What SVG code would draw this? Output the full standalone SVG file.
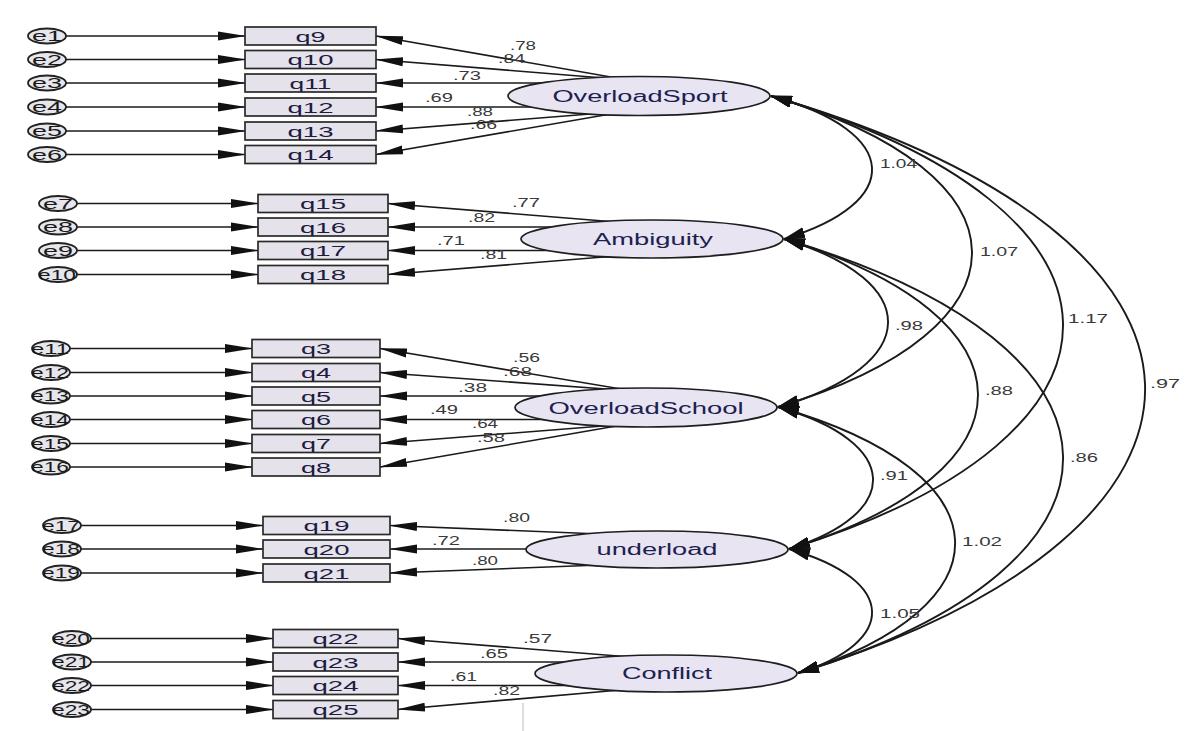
<svg xmlns="http://www.w3.org/2000/svg" width="1186" height="731" viewBox="0 0 1186 731">
<style>
.bg{fill:#ffffff}
.box{fill:#e6e2ec;stroke:#2a2a2a;stroke-width:1.7}
.err{fill:#e6e6ec;stroke:#222;stroke-width:1.8}
.lat{fill:#e8e4f2;stroke:#1e1e1e;stroke-width:1.7}
.ln{fill:none;stroke:#1a1a1a;stroke-width:1.6}
.cv{fill:none;stroke:#1a1a1a;stroke-width:1.9}
.bt{font-family:"Liberation Sans",Arial,sans-serif;font-size:15px;fill:#1c1c40;text-anchor:middle}
.et{font-family:"Liberation Sans",Arial,sans-serif;font-size:15px;fill:#1a1a1a;text-anchor:middle}
.lt{font-family:"Liberation Sans",Arial,sans-serif;font-size:16px;fill:#1c2150;text-anchor:middle}
.nt{font-family:"Liberation Sans",Arial,sans-serif;font-size:12px;fill:#3a3a3a}
</style>
<defs>
<linearGradient id="bgg" x1="0" y1="0" x2="1" y2="0">
<stop offset="0" stop-color="#ececec"/>
<stop offset="0.25" stop-color="#f1f1f1"/>
<stop offset="0.4" stop-color="#fafafa"/>
<stop offset="1" stop-color="#ffffff"/>
</linearGradient>
<marker id="ah" markerUnits="userSpaceOnUse" markerWidth="28" markerHeight="10" refX="27" refY="5" orient="auto">
<path d="M0,0.5 L28,5 L0,9.5 z" fill="#111"/>
</marker>
<marker id="ch" markerUnits="userSpaceOnUse" markerWidth="22" markerHeight="12" refX="21" refY="6" orient="auto-start-reverse">
<path d="M0,0 L22,6 L0,12 z" fill="#111"/>
</marker>
</defs>
<rect class="bg" x="0" y="0" width="1186" height="731" fill="url(#bgg)"/>
<line x1="523" y1="703" x2="523" y2="731" stroke="#bbbbbb" stroke-width="1"/>

<g id="connectors">
<!-- error arrows block 1 -->
<path class="ln" marker-end="url(#ah)" d="M66,36 H245"/>
<path class="ln" marker-end="url(#ah)" d="M66,59.5 H245"/>
<path class="ln" marker-end="url(#ah)" d="M66,83 H245"/>
<path class="ln" marker-end="url(#ah)" d="M66,107 H245"/>
<path class="ln" marker-end="url(#ah)" d="M66,131 H245"/>
<path class="ln" marker-end="url(#ah)" d="M66,154.5 H245"/>
<!-- block 2 -->
<path class="ln" marker-end="url(#ah)" d="M77,203.5 H258"/>
<path class="ln" marker-end="url(#ah)" d="M77,227 H258"/>
<path class="ln" marker-end="url(#ah)" d="M77,250.5 H258"/>
<path class="ln" marker-end="url(#ah)" d="M77,274.5 H258"/>
<!-- block 3 -->
<path class="ln" marker-end="url(#ah)" d="M70,348.5 H252"/>
<path class="ln" marker-end="url(#ah)" d="M70,372.5 H252"/>
<path class="ln" marker-end="url(#ah)" d="M70,396 H252"/>
<path class="ln" marker-end="url(#ah)" d="M70,419.5 H252"/>
<path class="ln" marker-end="url(#ah)" d="M70,443.5 H252"/>
<path class="ln" marker-end="url(#ah)" d="M70,467 H252"/>
<!-- block 4 -->
<path class="ln" marker-end="url(#ah)" d="M81,525.5 H263"/>
<path class="ln" marker-end="url(#ah)" d="M81,549 H263"/>
<path class="ln" marker-end="url(#ah)" d="M81,573 H263"/>
<!-- block 5 -->
<path class="ln" marker-end="url(#ah)" d="M91,638.5 H273"/>
<path class="ln" marker-end="url(#ah)" d="M91,662 H273"/>
<path class="ln" marker-end="url(#ah)" d="M91,685.5 H273"/>
<path class="ln" marker-end="url(#ah)" d="M91,709.5 H273"/>

<!-- loadings block 1 -->
<path class="ln" marker-end="url(#ah)" d="M628,80 L376,36"/>
<path class="ln" marker-end="url(#ah)" d="M628,80 L376,59.5"/>
<path class="ln" marker-end="url(#ah)" d="M600,83 L376,83"/>
<path class="ln" marker-end="url(#ah)" d="M600,107 L376,107"/>
<path class="ln" marker-end="url(#ah)" d="M628,111 L376,131"/>
<path class="ln" marker-end="url(#ah)" d="M628,111 L376,154.5"/>
<!-- loadings block 2 -->
<path class="ln" marker-end="url(#ah)" d="M628,223 L388,203.5"/>
<path class="ln" marker-end="url(#ah)" d="M600,227 L388,227"/>
<path class="ln" marker-end="url(#ah)" d="M600,250.5 L388,250.5"/>
<path class="ln" marker-end="url(#ah)" d="M628,255 L388,274.5"/>
<!-- loadings block 3 -->
<path class="ln" marker-end="url(#ah)" d="M633,391 L380,348.5"/>
<path class="ln" marker-end="url(#ah)" d="M633,391 L380,372.5"/>
<path class="ln" marker-end="url(#ah)" d="M600,396 L380,396"/>
<path class="ln" marker-end="url(#ah)" d="M600,419.5 L380,419.5"/>
<path class="ln" marker-end="url(#ah)" d="M628,424 L380,443.5"/>
<path class="ln" marker-end="url(#ah)" d="M628,424 L380,467"/>
<!-- loadings block 4 -->
<path class="ln" marker-end="url(#ah)" d="M600,534 L390,525.5"/>
<path class="ln" marker-end="url(#ah)" d="M600,549 L390,549"/>
<path class="ln" marker-end="url(#ah)" d="M600,565 L390,573"/>
<!-- loadings block 5 -->
<path class="ln" marker-end="url(#ah)" d="M643,658 L398,638.5"/>
<path class="ln" marker-end="url(#ah)" d="M600,662 L398,662"/>
<path class="ln" marker-end="url(#ah)" d="M600,685.5 L398,685.5"/>
<path class="ln" marker-end="url(#ah)" d="M620,690 L398,709.5"/>

<!-- covariances -->
<path class="cv" marker-start="url(#ch)" marker-end="url(#ch)" d="M771,96 C903.5,131.75 903.5,203.25 784,239"/>
<path class="cv" marker-start="url(#ch)" marker-end="url(#ch)" d="M771,96 C1037.8,173.75 1037.8,329.25 778,407"/>
<path class="cv" marker-start="url(#ch)" marker-end="url(#ch)" d="M771,96 C1157.3,209.25 1157.3,435.75 789,549"/>
<path class="cv" marker-start="url(#ch)" marker-end="url(#ch)" d="M771,96 C1265.2,240.25 1265.2,528.75 798,673"/>
<path class="cv" marker-start="url(#ch)" marker-end="url(#ch)" d="M784,239 C923.7,281 923.7,365 778,407"/>
<path class="cv" marker-start="url(#ch)" marker-end="url(#ch)" d="M784,239 C1041.8,316.5 1041.8,471.5 789,549"/>
<path class="cv" marker-start="url(#ch)" marker-end="url(#ch)" d="M784,239 C1153.7,347.5 1153.7,564.5 798,673"/>
<path class="cv" marker-start="url(#ch)" marker-end="url(#ch)" d="M778,407 C902.8,442.5 902.8,513.5 789,549"/>
<path class="cv" marker-start="url(#ch)" marker-end="url(#ch)" d="M778,407 C1010.7,473.5 1010.7,606.5 798,673"/>
<path class="cv" marker-start="url(#ch)" marker-end="url(#ch)" d="M789,549 C898.2,580 898.2,642 798,673"/>

<!-- loading labels -->
<text class="nt" x="510" y="50" textLength="26" lengthAdjust="spacingAndGlyphs">.78</text>
<text class="nt" x="498" y="63" textLength="27" lengthAdjust="spacingAndGlyphs">.84</text>
<text class="nt" x="453" y="80" textLength="28" lengthAdjust="spacingAndGlyphs">.73</text>
<text class="nt" x="425" y="102" textLength="28" lengthAdjust="spacingAndGlyphs">.69</text>
<text class="nt" x="467" y="116" textLength="26" lengthAdjust="spacingAndGlyphs">.88</text>
<text class="nt" x="470" y="129" textLength="27" lengthAdjust="spacingAndGlyphs">.66</text>
<text class="nt" x="512" y="207" textLength="28" lengthAdjust="spacingAndGlyphs">.77</text>
<text class="nt" x="468" y="222" textLength="27" lengthAdjust="spacingAndGlyphs">.82</text>
<text class="nt" x="437" y="245" textLength="28" lengthAdjust="spacingAndGlyphs">.71</text>
<text class="nt" x="480" y="259" textLength="27" lengthAdjust="spacingAndGlyphs">.81</text>
<text class="nt" x="513" y="362" textLength="27" lengthAdjust="spacingAndGlyphs">.56</text>
<text class="nt" x="503" y="376" textLength="29" lengthAdjust="spacingAndGlyphs">.68</text>
<text class="nt" x="458" y="392" textLength="29" lengthAdjust="spacingAndGlyphs">.38</text>
<text class="nt" x="430" y="414" textLength="28" lengthAdjust="spacingAndGlyphs">.49</text>
<text class="nt" x="472" y="428" textLength="26" lengthAdjust="spacingAndGlyphs">.64</text>
<text class="nt" x="477" y="442" textLength="28" lengthAdjust="spacingAndGlyphs">.58</text>
<text class="nt" x="503" y="522" textLength="27" lengthAdjust="spacingAndGlyphs">.80</text>
<text class="nt" x="432" y="545" textLength="28" lengthAdjust="spacingAndGlyphs">.72</text>
<text class="nt" x="472" y="565" textLength="26" lengthAdjust="spacingAndGlyphs">.80</text>
<text class="nt" x="523" y="643" textLength="29" lengthAdjust="spacingAndGlyphs">.57</text>
<text class="nt" x="480" y="658" textLength="28" lengthAdjust="spacingAndGlyphs">.65</text>
<text class="nt" x="450" y="681" textLength="27" lengthAdjust="spacingAndGlyphs">.61</text>
<text class="nt" x="493" y="695" textLength="27" lengthAdjust="spacingAndGlyphs">.82</text>
<!-- covariance labels -->
<text class="nt" x="880" y="168" textLength="37" lengthAdjust="spacingAndGlyphs">1.04</text>
<text class="nt" x="980" y="256" textLength="38" lengthAdjust="spacingAndGlyphs">1.07</text>
<text class="nt" x="1068" y="323" textLength="40" lengthAdjust="spacingAndGlyphs">1.17</text>
<text class="nt" x="1150" y="388" textLength="30" lengthAdjust="spacingAndGlyphs">.97</text>
<text class="nt" x="895" y="330" textLength="28" lengthAdjust="spacingAndGlyphs">.98</text>
<text class="nt" x="985" y="395" textLength="28" lengthAdjust="spacingAndGlyphs">.88</text>
<text class="nt" x="1070" y="462" textLength="28" lengthAdjust="spacingAndGlyphs">.86</text>
<text class="nt" x="880" y="480" textLength="28" lengthAdjust="spacingAndGlyphs">.91</text>
<text class="nt" x="962" y="546" textLength="40" lengthAdjust="spacingAndGlyphs">1.02</text>
<text class="nt" x="880" y="618" textLength="40" lengthAdjust="spacingAndGlyphs">1.05</text>
</g>

<!-- error terms -->
<g id="e1"><ellipse class="err" cx="47" cy="36" rx="19" ry="7.5"/><text class="et" x="47" y="41" textLength="30" lengthAdjust="spacingAndGlyphs">e1</text></g>
<g id="e2"><ellipse class="err" cx="47" cy="59.5" rx="19" ry="7.5"/><text class="et" x="47" y="64.5" textLength="30" lengthAdjust="spacingAndGlyphs">e2</text></g>
<g id="e3"><ellipse class="err" cx="47" cy="83" rx="19" ry="7.5"/><text class="et" x="47" y="88" textLength="30" lengthAdjust="spacingAndGlyphs">e3</text></g>
<g id="e4"><ellipse class="err" cx="47" cy="107" rx="19" ry="7.5"/><text class="et" x="47" y="112" textLength="30" lengthAdjust="spacingAndGlyphs">e4</text></g>
<g id="e5"><ellipse class="err" cx="47" cy="131" rx="19" ry="7.5"/><text class="et" x="47" y="136" textLength="30" lengthAdjust="spacingAndGlyphs">e5</text></g>
<g id="e6"><ellipse class="err" cx="47" cy="154.5" rx="19" ry="7.5"/><text class="et" x="47" y="159.5" textLength="30" lengthAdjust="spacingAndGlyphs">e6</text></g>
<g id="e7"><ellipse class="err" cx="58" cy="203.5" rx="19" ry="7.5"/><text class="et" x="58" y="208.5" textLength="30" lengthAdjust="spacingAndGlyphs">e7</text></g>
<g id="e8"><ellipse class="err" cx="58" cy="227" rx="19" ry="7.5"/><text class="et" x="58" y="232" textLength="30" lengthAdjust="spacingAndGlyphs">e8</text></g>
<g id="e9"><ellipse class="err" cx="58" cy="250.5" rx="19" ry="7.5"/><text class="et" x="58" y="255.5" textLength="30" lengthAdjust="spacingAndGlyphs">e9</text></g>
<g id="e10"><ellipse class="err" cx="58" cy="274.5" rx="19" ry="7.5"/><text class="et" x="57" y="279.5" textLength="38" lengthAdjust="spacingAndGlyphs">e10</text></g>
<g id="e11"><ellipse class="err" cx="51" cy="348.5" rx="19" ry="7.5"/><text class="et" x="50" y="353.5" textLength="38" lengthAdjust="spacingAndGlyphs">e11</text></g>
<g id="e12"><ellipse class="err" cx="51" cy="372.5" rx="19" ry="7.5"/><text class="et" x="50" y="377.5" textLength="38" lengthAdjust="spacingAndGlyphs">e12</text></g>
<g id="e13"><ellipse class="err" cx="51" cy="396" rx="19" ry="7.5"/><text class="et" x="50" y="401" textLength="38" lengthAdjust="spacingAndGlyphs">e13</text></g>
<g id="e14"><ellipse class="err" cx="51" cy="419.5" rx="19" ry="7.5"/><text class="et" x="50" y="424.5" textLength="38" lengthAdjust="spacingAndGlyphs">e14</text></g>
<g id="e15"><ellipse class="err" cx="51" cy="443.5" rx="19" ry="7.5"/><text class="et" x="50" y="448.5" textLength="38" lengthAdjust="spacingAndGlyphs">e15</text></g>
<g id="e16"><ellipse class="err" cx="51" cy="467" rx="19" ry="7.5"/><text class="et" x="50" y="472" textLength="38" lengthAdjust="spacingAndGlyphs">e16</text></g>
<g id="e17"><ellipse class="err" cx="62" cy="525.5" rx="19" ry="7.5"/><text class="et" x="61" y="530.5" textLength="38" lengthAdjust="spacingAndGlyphs">e17</text></g>
<g id="e18"><ellipse class="err" cx="62" cy="549" rx="19" ry="7.5"/><text class="et" x="61" y="554" textLength="38" lengthAdjust="spacingAndGlyphs">e18</text></g>
<g id="e19"><ellipse class="err" cx="62" cy="573" rx="19" ry="7.5"/><text class="et" x="61" y="578" textLength="38" lengthAdjust="spacingAndGlyphs">e19</text></g>
<g id="e20"><ellipse class="err" cx="72" cy="638.5" rx="19" ry="7.5"/><text class="et" x="71" y="643.5" textLength="38" lengthAdjust="spacingAndGlyphs">e20</text></g>
<g id="e21"><ellipse class="err" cx="72" cy="662" rx="19" ry="7.5"/><text class="et" x="71" y="667" textLength="38" lengthAdjust="spacingAndGlyphs">e21</text></g>
<g id="e22"><ellipse class="err" cx="72" cy="685.5" rx="19" ry="7.5"/><text class="et" x="71" y="690.5" textLength="38" lengthAdjust="spacingAndGlyphs">e22</text></g>
<g id="e23"><ellipse class="err" cx="72" cy="709.5" rx="19" ry="7.5"/><text class="et" x="71" y="714.5" textLength="38" lengthAdjust="spacingAndGlyphs">e23</text></g>

<!-- observed variables -->
<g id="q9"><rect class="box" x="245" y="27" width="131" height="18"/><text class="bt" x="310.5" y="41.5" textLength="30" lengthAdjust="spacingAndGlyphs">q9</text></g>
<g id="q10"><rect class="box" x="245" y="50.5" width="131" height="18"/><text class="bt" x="310.5" y="65" textLength="46" lengthAdjust="spacingAndGlyphs">q10</text></g>
<g id="q11"><rect class="box" x="245" y="74" width="131" height="18"/><text class="bt" x="310.5" y="88.5" textLength="42" lengthAdjust="spacingAndGlyphs">q11</text></g>
<g id="q12"><rect class="box" x="245" y="98" width="131" height="18"/><text class="bt" x="310.5" y="112.5" textLength="46" lengthAdjust="spacingAndGlyphs">q12</text></g>
<g id="q13"><rect class="box" x="245" y="122" width="131" height="18"/><text class="bt" x="310.5" y="136.5" textLength="46" lengthAdjust="spacingAndGlyphs">q13</text></g>
<g id="q14"><rect class="box" x="245" y="145.5" width="131" height="18"/><text class="bt" x="310.5" y="160" textLength="46" lengthAdjust="spacingAndGlyphs">q14</text></g>

<g id="q15"><rect class="box" x="258" y="194.5" width="130" height="18"/><text class="bt" x="323" y="209" textLength="46" lengthAdjust="spacingAndGlyphs">q15</text></g>
<g id="q16"><rect class="box" x="258" y="218" width="130" height="18"/><text class="bt" x="323" y="232.5" textLength="46" lengthAdjust="spacingAndGlyphs">q16</text></g>
<g id="q17"><rect class="box" x="258" y="241.5" width="130" height="18"/><text class="bt" x="323" y="256" textLength="46" lengthAdjust="spacingAndGlyphs">q17</text></g>
<g id="q18"><rect class="box" x="258" y="265.5" width="130" height="18"/><text class="bt" x="323" y="280" textLength="46" lengthAdjust="spacingAndGlyphs">q18</text></g>

<g id="q3"><rect class="box" x="252" y="339.5" width="128" height="18"/><text class="bt" x="316" y="354" textLength="30" lengthAdjust="spacingAndGlyphs">q3</text></g>
<g id="q4"><rect class="box" x="252" y="363.5" width="128" height="18"/><text class="bt" x="316" y="378" textLength="30" lengthAdjust="spacingAndGlyphs">q4</text></g>
<g id="q5"><rect class="box" x="252" y="387" width="128" height="18"/><text class="bt" x="316" y="401.5" textLength="30" lengthAdjust="spacingAndGlyphs">q5</text></g>
<g id="q6"><rect class="box" x="252" y="410.5" width="128" height="18"/><text class="bt" x="316" y="425" textLength="30" lengthAdjust="spacingAndGlyphs">q6</text></g>
<g id="q7"><rect class="box" x="252" y="434.5" width="128" height="18"/><text class="bt" x="316" y="449" textLength="30" lengthAdjust="spacingAndGlyphs">q7</text></g>
<g id="q8"><rect class="box" x="252" y="458" width="128" height="18"/><text class="bt" x="316" y="472.5" textLength="30" lengthAdjust="spacingAndGlyphs">q8</text></g>

<g id="q19"><rect class="box" x="263" y="516.5" width="127" height="18"/><text class="bt" x="326.5" y="531" textLength="46" lengthAdjust="spacingAndGlyphs">q19</text></g>
<g id="q20"><rect class="box" x="263" y="540" width="127" height="18"/><text class="bt" x="326.5" y="554.5" textLength="46" lengthAdjust="spacingAndGlyphs">q20</text></g>
<g id="q21"><rect class="box" x="263" y="564" width="127" height="18"/><text class="bt" x="326.5" y="578.5" textLength="46" lengthAdjust="spacingAndGlyphs">q21</text></g>

<g id="q22"><rect class="box" x="273" y="629.5" width="125" height="18"/><text class="bt" x="335.5" y="644" textLength="46" lengthAdjust="spacingAndGlyphs">q22</text></g>
<g id="q23"><rect class="box" x="273" y="653" width="125" height="18"/><text class="bt" x="335.5" y="667.5" textLength="46" lengthAdjust="spacingAndGlyphs">q23</text></g>
<g id="q24"><rect class="box" x="273" y="676.5" width="125" height="18"/><text class="bt" x="335.5" y="691" textLength="46" lengthAdjust="spacingAndGlyphs">q24</text></g>
<g id="q25"><rect class="box" x="273" y="700.5" width="125" height="18"/><text class="bt" x="335.5" y="715" textLength="46" lengthAdjust="spacingAndGlyphs">q25</text></g>

<!-- latent variables -->
<g id="OverloadSport"><ellipse class="lat" cx="639" cy="96" rx="131" ry="19.5"/><text class="lt" x="640" y="102" textLength="175" lengthAdjust="spacingAndGlyphs">OverloadSport</text></g>
<g id="Ambiguity"><ellipse class="lat" cx="652" cy="239" rx="131" ry="19"/><text class="lt" x="653" y="245" textLength="120" lengthAdjust="spacingAndGlyphs">Ambiguity</text></g>
<g id="OverloadSchool"><ellipse class="lat" cx="646" cy="407.5" rx="131" ry="19.5"/><text class="lt" x="646" y="413.5" textLength="195" lengthAdjust="spacingAndGlyphs">OverloadSchool</text></g>
<g id="underload"><ellipse class="lat" cx="657" cy="549.5" rx="131" ry="18.5"/><text class="lt" x="657" y="555" textLength="121" lengthAdjust="spacingAndGlyphs">underload</text></g>
<g id="Conflict"><ellipse class="lat" cx="666" cy="673.5" rx="131" ry="18.5"/><text class="lt" x="667" y="679" textLength="90" lengthAdjust="spacingAndGlyphs">Conflict</text></g>
</svg>
